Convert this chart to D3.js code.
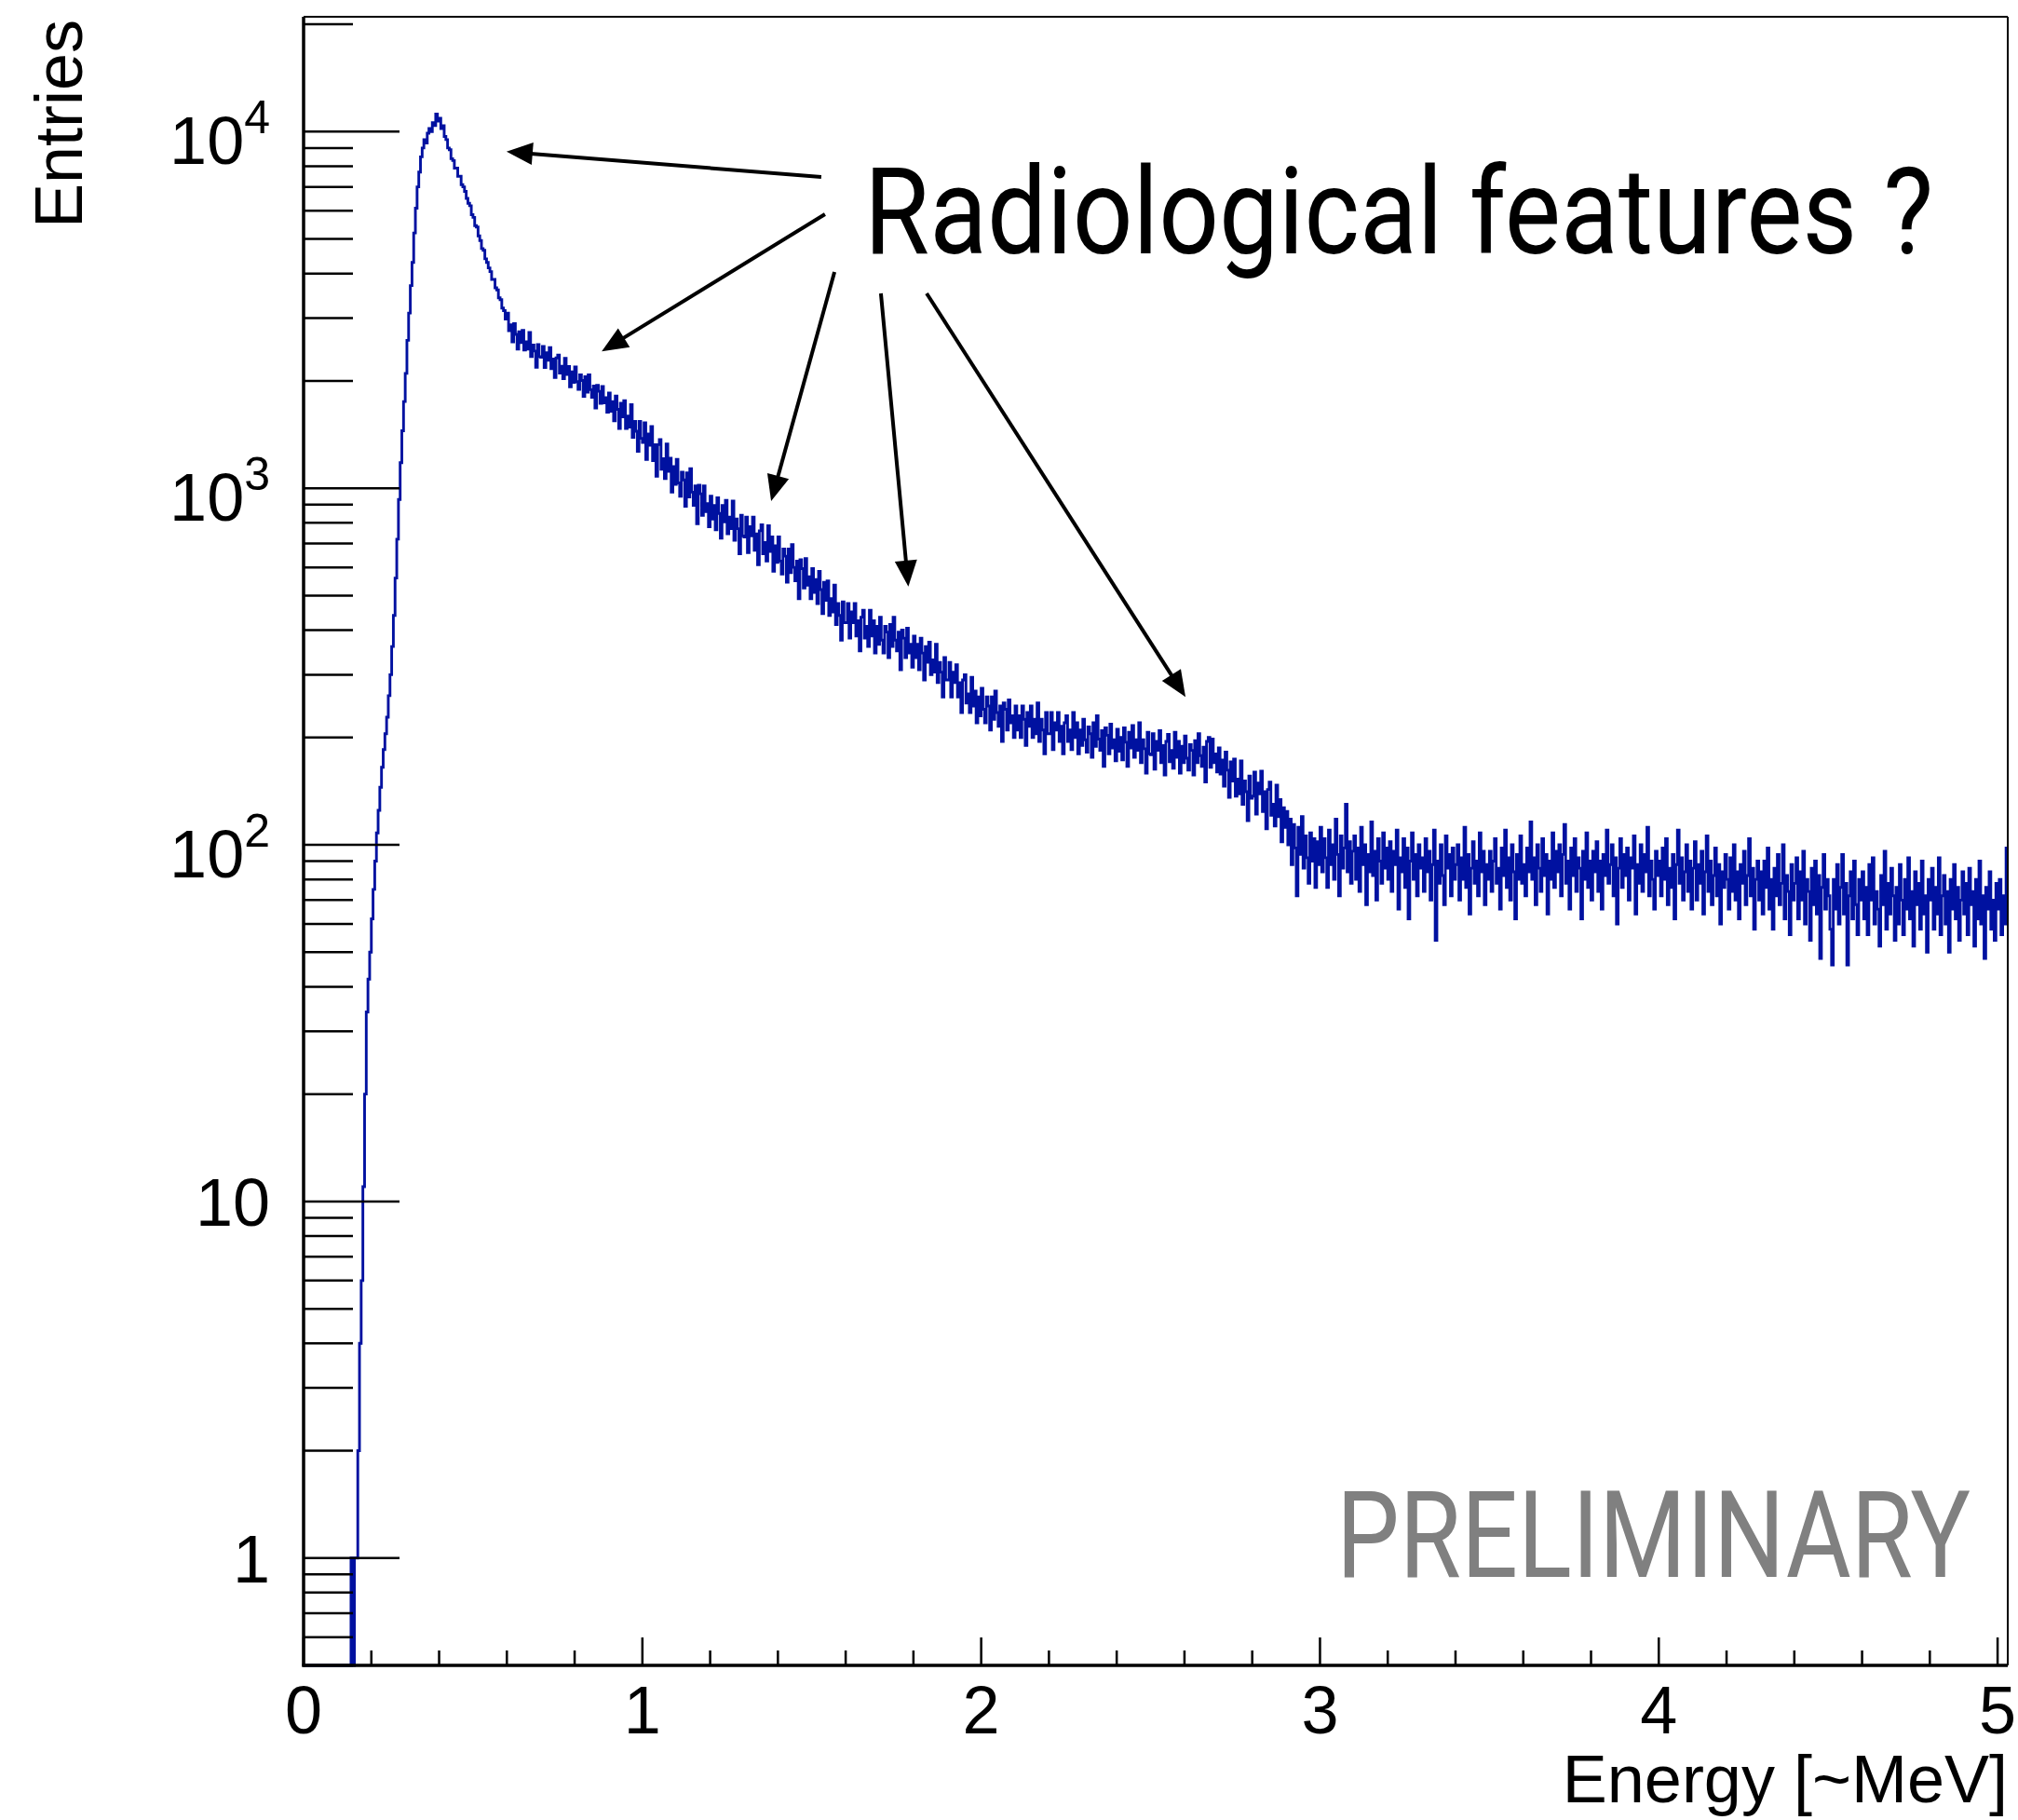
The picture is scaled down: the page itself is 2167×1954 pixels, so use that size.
<!DOCTYPE html>
<html>
<head>
<meta charset="utf-8">
<script src="https://cdn.jsdelivr.net/npm/d3@7"></script>
<style>
  body{ margin:0; background:#fff; }
  svg{ display:block; }
</style>
</head>
<body>
<div class="chart"></div>
<script>
// spectrum, 0.005 MeV bins starting at 0
var binWidth = 0.005;

// 0.000 - 0.995 MeV (one row = 0.1 MeV)
var counts0 = [
  0,0,0,0,0,0,0,0,0,0,0,0,0,0,0,0,0,0,0,0,
  0,0,0,0,0,0,0,0,1,0,1,1,2,4,6,11,20,34,42,50,
  62,75,90,108,125,145,165,185,205,228,262,300,360,440,560,720,930,1180,1450,1750,
  2100,2600,3100,3700,4300,5200,6100,7000,7700,8500,9000,9500,9300,9900,10200,10000,10600,10400,11200,10700,
  10900,10200,10400,9700,9500,9000,8900,8400,8300,7900,7900,7500,7500,7100,7000,6800,6500,6300,6200,5850,
  5750,5450,5400,5100,4950,4700,4650,4400,4300,4150,4050,3850,3850,3650,3600,3420,3380,3200,3150,2980,
  3100,2765,2875,2575,2895,2700,2455,2745,2560,2770,2440,2575,2455,2735,2340,2520,2425,2185,2530,2340,
  2330,2500,2180,2400,2285,2480,2165,2305,2045,2320,2365,2105,2200,2030,2315,2085,2195,1925,2120,1980,
  2190,1990,1895,2080,2005,1810,2055,1860,2080,1890,1800,1935,1680,1945,1870,1730,1930,1735,1795,1635,
  1850,1645,1750,1545,1815,1665,1470,1730,1585,1760,1470,1595,1485,1715,1390,1540,1445,1270,1540,1380
];
// 1.000 - 1.995 MeV
var counts1 = [
  1345,1525,1205,1420,1320,1490,1195,1325,1080,1325,1370,1130,1210,1065,1330,1115,1215,975,1150,1025,
  1205,1035,950,1110,1055,890,1105,945,1135,975,895,1015,795,1020,965,840,1015,860,905,780,
  950,820,895,765,940,850,725,895,805,925,745,830,770,920,715,820,770,655,840,735,
  730,830,660,780,735,830,670,745,610,760,790,655,705,625,785,665,730,585,690,620,
  730,625,575,675,645,545,675,580,695,600,550,625,490,630,595,525,635,535,565,490,
  595,510,555,475,585,520,445,545,485,550,440,490,450,535,415,475,440,375,480,420,
  420,475,380,450,420,475,385,425,350,435,455,380,410,360,455,385,425,345,410,365,
  435,375,345,410,395,335,415,360,435,375,350,395,310,400,380,335,405,345,365,315,
  385,335,365,310,380,345,290,360,325,370,300,330,305,365,285,325,305,260,335,290,
  290,325,260,305,285,320,260,285,235,290,300,250,265,235,295,245,270,220,260,230
];
// 2.000 - 2.995 MeV
var counts2 = [
  275,240,220,260,245,210,260,225,270,235,215,245,195,250,240,210,255,220,230,200,
  245,210,230,200,245,225,190,235,215,245,200,225,205,250,195,225,210,180,235,205,
  205,235,185,220,210,235,195,215,180,220,230,195,210,185,235,200,220,180,210,190,
  225,197,182,214,205,176,220,189,230,198,184,209,166,213,203,180,218,187,197,172,
  211,183,200,173,213,194,166,207,187,216,176,197,184,220,170,197,186,159,207,180,
  179,205,163,195,184,209,170,190,157,195,204,171,184,164,207,176,195,159,189,170,
  202,175,162,191,184,157,196,170,205,178,166,188,150,195,200,165,198,170,180,160,
  187,158,173,146,182,162,136,171,151,174,137,153,139,172,130,151,141,117,156,135,
  137,160,122,149,139,161,124,141,111,143,150,121,130,113,147,120,134,102,127,112,
  124,100,118,88,114,98,72,112,94,120,86,106,92,78,108,90,104,76,102,88
];
// 3.000 - 3.995 MeV
var counts3 = [
  112,84,104,92,76,110,88,100,80,118,94,72,106,86,98,130,84,102,78,96,
  106,80,98,74,112,88,100,68,94,84,116,82,96,70,104,90,78,108,86,98,
  80,102,74,96,88,110,66,92,84,104,76,98,62,90,108,80,94,72,100,86,
  92,74,104,84,96,70,88,110,54,90,78,100,82,68,106,86,94,72,98,80,
  88,100,70,92,80,112,76,94,64,86,102,78,90,72,108,84,96,68,88,80,
  96,74,90,104,78,86,66,98,82,110,76,92,70,100,84,62,94,80,106,78,
  88,72,98,84,116,80,92,68,100,86,74,104,82,94,64,90,80,108,76,96,
  84,100,72,94,114,78,90,66,98,82,104,74,92,86,62,96,80,108,76,90,
  70,96,84,102,74,90,66,94,82,110,78,88,100,72,92,60,86,104,76,94,
  82,98,70,92,86,106,64,88,78,100,74,94,84,112,72,90,80,66,96,82
];
// 4.000 - 5.025 MeV
var counts4 = [
  90,72,98,80,104,68,86,76,94,62,88,110,78,92,70,84,100,74,90,66,
  86,102,70,88,78,96,64,84,106,74,90,68,82,98,72,88,60,84,76,94,
  80,66,92,74,100,70,84,62,88,78,96,68,82,104,72,86,58,80,90,70,
  84,64,90,76,98,66,80,58,86,72,94,68,78,100,62,82,74,56,88,70,
  78,92,62,84,70,96,60,80,74,54,86,68,90,64,82,48,76,94,66,80,
  72,58,46,80,66,88,60,76,94,64,78,46,72,84,62,90,68,56,80,70,
  84,62,76,56,88,70,92,60,74,66,52,82,68,96,58,78,64,86,72,54,
  76,60,88,70,56,80,66,92,62,74,52,84,68,78,58,90,64,72,50,80,
  70,86,58,76,64,92,56,72,82,60,74,50,80,66,88,62,76,54,70,84,
  64,78,56,86,68,74,52,80,62,90,60,72,48,76,66,84,58,70,54,78,
  66,80,56,72,60,98
];

var yRange = [0.5, 21000];
var xTickLabels = ["0", "1", "2", "3", "4", "5"];
var yTickValues = [1, 10, 100, 1000, 10000];
var yTickLabels = [["1", ""], ["10", ""], ["10", "2"], ["10", "3"], ["10", "4"]];

// annotation, in (energy, entries)
var noteText = "Radiological features ?";
var noteAt = [1.655, 4560];
var arrowFrom = [[1.528, 7460], [1.539, 5870], [1.567, 4040], [1.704, 3520], [1.839, 3520]];
var arrowTo = [[0.599, 8790], [0.880, 2420], [1.380, 920], [1.785, 530], [2.603, 260]];
var stampText = "PRELIMINARY";

function init(){
  var w = 2167;
  var h = 1954;
  var left = 326, right = 2156, top = 18, bottom = 1788;

  var counts = counts0.concat(counts1, counts2, counts3, counts4);

  var svg = d3.select(".chart")
              .append("svg")
              .attr("width", w)
              .attr("height", h);

  svg.append("rect")
      .attr("width", w)
      .attr("height", h)
      .attr("fill", "white");

  var x = d3.scaleLinear()
            .domain([0, counts.length * binWidth])
            .range([left, right]);

  var y = d3.scaleLog()
            .domain(yRange)
            .range([bottom, top]);

  // histogram as a step line
  var pts = counts.map(function(c, i){
    return [i * binWidth, c];
  });
  pts.push([counts.length * binWidth, counts[counts.length - 1]]);

  var line = d3.line()
               .x(function(d){ return x(d[0]); })
               .y(function(d){ return y(Math.max(d[1], yRange[0])); })
               .curve(d3.curveStepAfter);

  svg.append("path")
      .datum(pts)
      .attr("d", line)
      .attr("fill", "none")
      .attr("stroke", "#0011a0")
      .attr("stroke-width", 2.9);

  // frame
  svg.append("line")
      .attr("x1", left).attr("x2", right)
      .attr("y1", top).attr("y2", top)
      .attr("stroke", "black").attr("stroke-width", 2);
  svg.append("line")
      .attr("x1", right).attr("x2", right)
      .attr("y1", top).attr("y2", bottom)
      .attr("stroke", "black").attr("stroke-width", 2);
  svg.append("line")
      .attr("x1", left).attr("x2", left)
      .attr("y1", top).attr("y2", bottom + 1.5)
      .attr("stroke", "black").attr("stroke-width", 3.5);
  svg.append("line")
      .attr("x1", left - 1.5).attr("x2", right)
      .attr("y1", bottom).attr("y2", bottom)
      .attr("stroke", "black").attr("stroke-width", 3.5);

  function isMajor(d){
    var l = Math.log10(d);
    return Math.abs(l - Math.round(l)) < 1e-9;
  }

  // y ticks, drawn inwards like ROOT
  svg.append("g")
      .attr("stroke", "black")
      .attr("stroke-width", 2.5)
    .selectAll("line")
    .data(y.ticks())
    .join("line")
      .attr("x1", left)
      .attr("x2", function(d){ return isMajor(d) ? left + 103 : left + 53; })
      .attr("y1", function(d){ return y(d); })
      .attr("y2", function(d){ return y(d); });

  // x ticks
  svg.append("g")
      .attr("stroke", "black")
      .attr("stroke-width", 2.5)
    .selectAll("line")
    .data(x.ticks(25))
    .join("line")
      .attr("x1", function(d){ return x(d); })
      .attr("x2", function(d){ return x(d); })
      .attr("y1", bottom)
      .attr("y2", function(d){
        return Math.abs(d - Math.round(d)) < 1e-9 ? bottom - 30 : bottom - 16;
      });

  svg.append("g")
      .style("font-family", "'Liberation Sans', Arial, sans-serif")
      .style("font-size", "72px")
      .attr("text-anchor", "middle")
    .selectAll("text")
    .data(xTickLabels)
    .join("text")
      .attr("x", function(d){ return x(+d); })
      .attr("y", 1861)
      .text(function(d){ return d; });

  var yLab = svg.append("g")
                .style("font-family", "'Liberation Sans', Arial, sans-serif")
                .style("font-size", "72px")
                .attr("text-anchor", "end")
              .selectAll("text")
              .data(yTickValues)
              .join("text")
                .attr("x", 290)
                .attr("y", function(d, i){
                  return y(d) + (yTickLabels[i][1] ? 35 : 26);
                });

  yLab.append("tspan")
      .text(function(d, i){ return yTickLabels[i][0]; });
  yLab.append("tspan")
      .attr("dy", -33)
      .style("font-size", "50px")
      .text(function(d, i){ return yTickLabels[i][1]; });

  // axis titles
  svg.append("text")
      .attr("transform", "translate(88,21) rotate(-90)")
      .attr("text-anchor", "end")
      .style("font-family", "'Liberation Sans', Arial, sans-serif")
      .style("font-size", "72px")
      .text("Entries");

  svg.append("text")
      .attr("x", right)
      .attr("y", 1935)
      .attr("text-anchor", "end")
      .style("font-family", "'Liberation Sans', Arial, sans-serif")
      .style("font-size", "72px")
      .text("Energy [~MeV]");

  // arrows
  var headLen = 28, headHalf = 12;
  var arrows = svg.append("g")
                  .selectAll("g")
                  .data(d3.zip(arrowFrom, arrowTo))
                  .join("g");

  arrows.each(function(d){
    var x0 = x(d[0][0]), y0 = y(d[0][1]);
    var x1 = x(d[1][0]), y1 = y(d[1][1]);
    var len = Math.hypot(x1 - x0, y1 - y0);
    var ux = (x1 - x0) / len, uy = (y1 - y0) / len;
    var bx = x1 - ux * headLen, by = y1 - uy * headLen;
    var g = d3.select(this);

    g.append("line")
      .attr("x1", x0).attr("y1", y0)
      .attr("x2", bx + ux * 2).attr("y2", by + uy * 2)
      .attr("stroke", "black")
      .attr("stroke-width", 4);

    g.append("path")
      .attr("d", "M" + x1 + "," + y1 +
                 "L" + (bx - uy * headHalf) + "," + (by + ux * headHalf) +
                 "L" + (bx + uy * headHalf) + "," + (by - ux * headHalf) + "Z")
      .attr("fill", "black");
  });

  svg.append("text")
      .attr("x", x(noteAt[0]))
      .attr("y", y(noteAt[1]))
      .attr("textLength", 1148)
      .attr("lengthAdjust", "spacingAndGlyphs")
      .style("font-family", "Roboto, 'Noto Sans', sans-serif")
      .style("font-size", "129px")
      .text(noteText);

  svg.append("text")
      .attr("x", 2116)
      .attr("y", 1693)
      .attr("text-anchor", "end")
      .attr("textLength", 681)
      .attr("lengthAdjust", "spacingAndGlyphs")
      .attr("fill", "#808080")
      .style("font-family", "Roboto, 'Noto Sans', sans-serif")
      .style("font-size", "130px")
      .text(stampText);
}

window.onload = init;
</script>
</body>
</html>
